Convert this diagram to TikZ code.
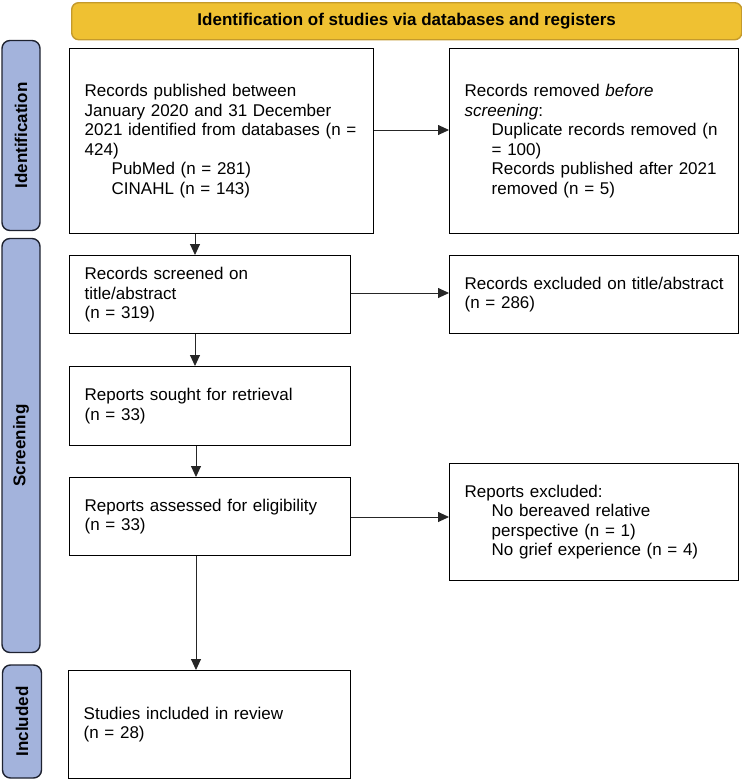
\documentclass[tikz,border=0pt]{standalone}
\usepackage{fontspec}
\setmainfont{Liberation Sans}
\usetikzlibrary{arrows.meta}
\definecolor{bannerfill}{HTML}{EFC132}
\definecolor{bannerdraw}{HTML}{C49A2C}
\definecolor{barfill}{HTML}{A3B3DC}
\definecolor{bardraw}{HTML}{1E2230}
\begin{document}
\begin{tikzpicture}[x=1pt,y=-1pt,
  txt/.style={font=\fontsize{17}{19.5}\selectfont},
  flowbox/.style={txt,draw=black,line width=1.4pt,anchor=north west,align=left,inner xsep=15pt,inner ysep=0pt},
  banner/.style={draw=bannerdraw,fill=bannerfill,line width=1.4pt,rounded corners=7pt,font=\bfseries\fontsize{17}{20}\selectfont,anchor=north west,inner sep=0pt},
  sidebar/.style={draw=bardraw,fill=barfill,line width=1.4pt,rounded corners=8pt,rotate=90,font=\bfseries\fontsize{17}{20}\selectfont,inner sep=0pt},
  conn/.style={line width=0.9pt,draw=black!85,-{Triangle[length=11pt,width=10pt]}}
]
\useasboundingbox (0,0) rectangle (742,780);

\node[banner,minimum width=670pt,minimum height=37pt] (ban) at (71,2) {Identification of studies via databases and registers};

\node[sidebar,minimum width=190pt,minimum height=38pt] (sid) at (21,135.5) {Identification};
\node[sidebar,minimum width=414pt,minimum height=38pt] (sscr) at (21,445.5) {Screening};
\node[sidebar,minimum width=113pt,minimum height=39pt] (sinc) at (22,721.5) {Included};

\node[flowbox,text width=274pt,minimum height=185pt] (b1) at (69,48) {Records published between\\January 2020 and 31 December\\2021 identified from databases (n =\\424)\\\hspace*{27pt}PubMed (n = 281)\\\hspace*{27pt}CINAHL (n = 143)};
\node[flowbox,text width=259pt,minimum height=185pt] (r1) at (449,48) {Records removed \textit{before}\\\textit{screening}:\\\hspace*{27pt}Duplicate records removed (n\\\hspace*{27pt}= 100)\\\hspace*{27pt}Records published after 2021\\\hspace*{27pt}removed (n = 5)};

\node[flowbox,text width=251pt,minimum height=78pt] (b2) at (69,255) {Records screened on\\title/abstract\\(n = 319)};
\node[flowbox,text width=259pt,minimum height=78pt] (r2) at (449,255) {Records excluded on title/abstract\\(n = 286)};

\node[flowbox,text width=251pt,minimum height=79pt] (b3) at (69,366) {Reports sought for retrieval\\(n = 33)};

\node[flowbox,text width=251pt,minimum height=78pt] (b4) at (69,477) {Reports assessed for eligibility\\(n = 33)};
\node[flowbox,text width=259pt,minimum height=117pt] (r4) at (449,463) {Reports excluded:\\\hspace*{27pt}No bereaved relative\\\hspace*{27pt}perspective (n = 1)\\\hspace*{27pt}No grief experience (n = 4)};

\node[flowbox,text width=252pt,minimum height=108pt] (b5) at (68,670) {Studies included in review\\(n = 28)};

\draw[conn] (b1.south -| 195,0) -- (b2.north -| 195,0);
\draw[conn] (b2.south -| 195,0) -- (b3.north -| 195,0);
\draw[conn] (b3.south -| 196,0) -- (b4.north -| 196,0);
\draw[conn] (b4.south -| 196,0) -- (b5.north -| 196,0);

\draw[conn] (b1.east |- 0,130) -- (r1.west |- 0,130);
\draw[conn] (b2.east |- 0,293) -- (r2.west |- 0,293);
\draw[conn] (b4.east |- 0,517) -- (r4.west |- 0,517);
\end{tikzpicture}
\end{document}
